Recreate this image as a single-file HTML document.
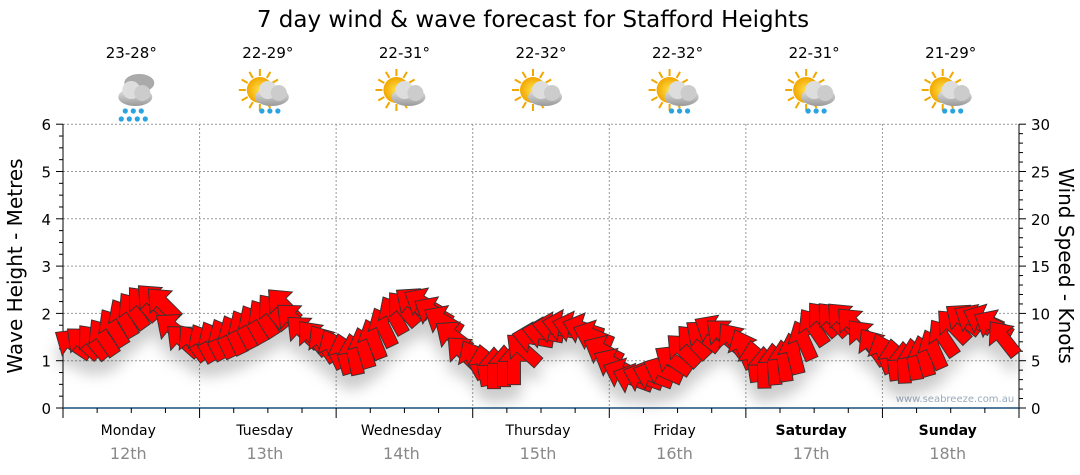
<!DOCTYPE html>
<html><head><meta charset="utf-8">
<style>
body{margin:0;background:#fff;width:1080px;height:475px;overflow:hidden;font-family:"DejaVu Sans",sans-serif;}
svg{display:block}
</style></head>
<body>
<svg id="s" width="1080" height="475" xmlns="http://www.w3.org/2000/svg" font-family="DejaVu Sans, Liberation Sans, sans-serif">
<defs>
<filter id="sh" x="-50%" y="-50%" width="200%" height="200%">
<feDropShadow dx="0" dy="14" stdDeviation="7" flood-color="#000" flood-opacity="0.2"/>
</filter>
<radialGradient id="sun" cx="50%" cy="50%" r="50%"><stop offset="0" stop-color="#ffe14a"/><stop offset="1" stop-color="#f2a600"/></radialGradient>
<linearGradient id="cl" x1="0" y1="0" x2="0" y2="1"><stop offset="0" stop-color="#e8e8e8"/><stop offset="1" stop-color="#9a9a9a"/></linearGradient>
</defs>
<text x="533" y="27" font-size="23" text-anchor="middle" fill="#000">7 day wind &amp; wave forecast for Stafford Heights</text>
<g id="g"></g>
</svg>
<script>
const g=document.getElementById('g');let h='';
const X0=63,X1=1019,Y0=408,U=47.3,DW=(X1-X0)/7;
for(let i=1;i<=6;i++){const y=Y0-i*U;h+=`<line x1="${X0}" x2="${X1}" y1="${y}" y2="${y}" stroke="#999" stroke-dasharray="2,2"/>`;}
for(let d=1;d<7;d++){const x=X0+d*DW;h+=`<line x1="${x}" x2="${x}" y1="124" y2="${Y0}" stroke="#999" stroke-dasharray="2,2"/>`;}
h+=`<line x1="${X0}" x2="${X0}" y1="124" y2="${Y0+10}" stroke="#000"/>`;
for(let i=0;i<=24;i++){const y=Y0-i*U/4;h+=`<line x1="${X0-(i%4?4:7)}" x2="${X0}" y1="${y}" y2="${y}" stroke="#000"/>`;}
for(let i=0;i<=6;i++)h+=`<text x="${X0-12}" y="${Y0-i*U+6}" font-size="15" text-anchor="end">${i}</text>`;
h+=`<line x1="${X1}" x2="${X1}" y1="124" y2="${Y0+10}" stroke="#000"/>`;
for(let i=0;i<=30;i++){const y=Y0-i*U/5;h+=`<line x1="${X1}" x2="${X1+(i%5?4:7)}" y1="${y}" y2="${y}" stroke="#000"/>`;}
for(let i=0;i<=6;i++)h+=`<text x="${X1+12}" y="${Y0-i*U+6}" font-size="15">${i*5}</text>`;
h+=`<line x1="${X0}" x2="${X1}" y1="${Y0}" y2="${Y0}" stroke="#1c4f7a" stroke-width="1.5"/>`;
for(let q=0;q<=28;q++){const x=X0+q*DW/4;h+=`<line x1="${x}" x2="${x}" y1="${Y0}" y2="${Y0+(q%4?5:10)}" stroke="#000"/>`;}
const days=["Monday","Tuesday","Wednesday","Thursday","Friday","Saturday","Sunday"],dates=["12th","13th","14th","15th","16th","17th","18th"],temps=["23-28°","22-29°","22-31°","22-32°","22-32°","22-31°","21-29°"];
for(let d=0;d<7;d++){const cx=X0+(d+.5)*DW;
h+=`<text x="${cx-3}" y="435" font-size="14" text-anchor="middle" ${d>=5?'font-weight="bold"':''}>${days[d]}</text>`;
h+=`<text x="${cx-3}" y="459" font-size="16" text-anchor="middle" fill="#888">${dates[d]}</text>`;
h+=`<text x="${cx}" y="58" font-size="15" text-anchor="middle">${temps[d]}</text>`;
const iy=95;
if(d>0){for(let r=0;r<12;r++){const a=r*Math.PI/6;h+=`<line x1="${cx-8+Math.cos(a)*14}" y1="${iy-5+Math.sin(a)*14}" x2="${cx-8+Math.cos(a)*21}" y2="${iy-5+Math.sin(a)*21}" stroke="#f0a800" stroke-width="2"/>`;}
h+=`<circle cx="${cx-8}" cy="${iy-5}" r="13" fill="url(#sun)"/>`;}
else{h+=`<ellipse cx="${cx+8}" cy="${iy-12}" rx="15" ry="9" fill="#aaa"/>`;}
h+=`<ellipse cx="${cx+4}" cy="${iy+2}" rx="17" ry="9" fill="url(#cl)"/><circle cx="${cx}" cy="${iy-5}" r="9" fill="#ddd"/><circle cx="${cx+11}" cy="${iy-2}" r="8" fill="#ccc"/>`;
if(d!=2&&d!=3){for(let k=0;k<3;k++)h+=`<circle cx="${cx-6+k*8}" cy="${iy+16}" r="2.6" fill="#2aa3e0"/>`;
if(d==0)for(let k=0;k<4;k++)h+=`<circle cx="${cx-10+k*8}" cy="${iy+24}" r="2.6" fill="#2aa3e0"/>`;}
}
h+=`<text x="955" y="402" font-size="10" fill="#9ab" text-anchor="middle">www.seabreeze.com.au</text>`;
h+=`<text transform="translate(22,266) rotate(-90)" font-size="20" text-anchor="middle">Wave Height - Metres</text>`;
h+=`<text transform="translate(1059,266) rotate(90)" font-size="20" text-anchor="middle">Wind Speed - Knots</text>`;
const kp=[[70,345,-60],[100,342,-35],[125,318,-30],[150,300,-45],[165,305,-45],[178,340,-55],[200,345,-30],[230,338,-25],[260,322,-30],[285,305,-45],[300,330,-50],[330,348,-30],[350,358,-10],[370,345,-20],[395,315,-30],[420,300,-60],[445,322,-60],[465,355,-45],[490,370,0],[515,365,0],[530,340,-80],[560,325,-80],[590,330,-70],[610,360,-60],[630,380,-70],[660,375,-70],[690,345,-40],[715,330,-60],[740,345,-30],[760,370,0],[790,360,-10],[820,320,-40],[850,320,-45],[870,345,-40],[900,365,0],[930,355,-20],[960,320,-50],[990,320,-70],[1012,350,-20]];
function interp(x){for(let i=0;i<kp.length-1;i++){if(x>=kp[i][0]&&x<=kp[i+1][0]){const t=(x-kp[i][0])/(kp[i+1][0]-kp[i][0]);return [kp[i][1]+t*(kp[i+1][1]-kp[i][1]),kp[i][2]+t*(kp[i+1][2]-kp[i][2])];}}return [kp[kp.length-1][1],kp[kp.length-1][2]];}
let a='';
for(let x=74;x<=1012;x+=10){const [y,ang]=interp(x);
a+=`<polygon transform="translate(${x},${y}) rotate(${ang}) scale(1.3)" points="0,-17 12,-3 5,-3 5,15 -5,15 -5,-3 -12,-3" fill="#ff0000" stroke="#333" stroke-width="0.7"/>`;}
h+=`<g filter="url(#sh)">${a}</g>`;
g.innerHTML=h;
</script>
</body></html>
